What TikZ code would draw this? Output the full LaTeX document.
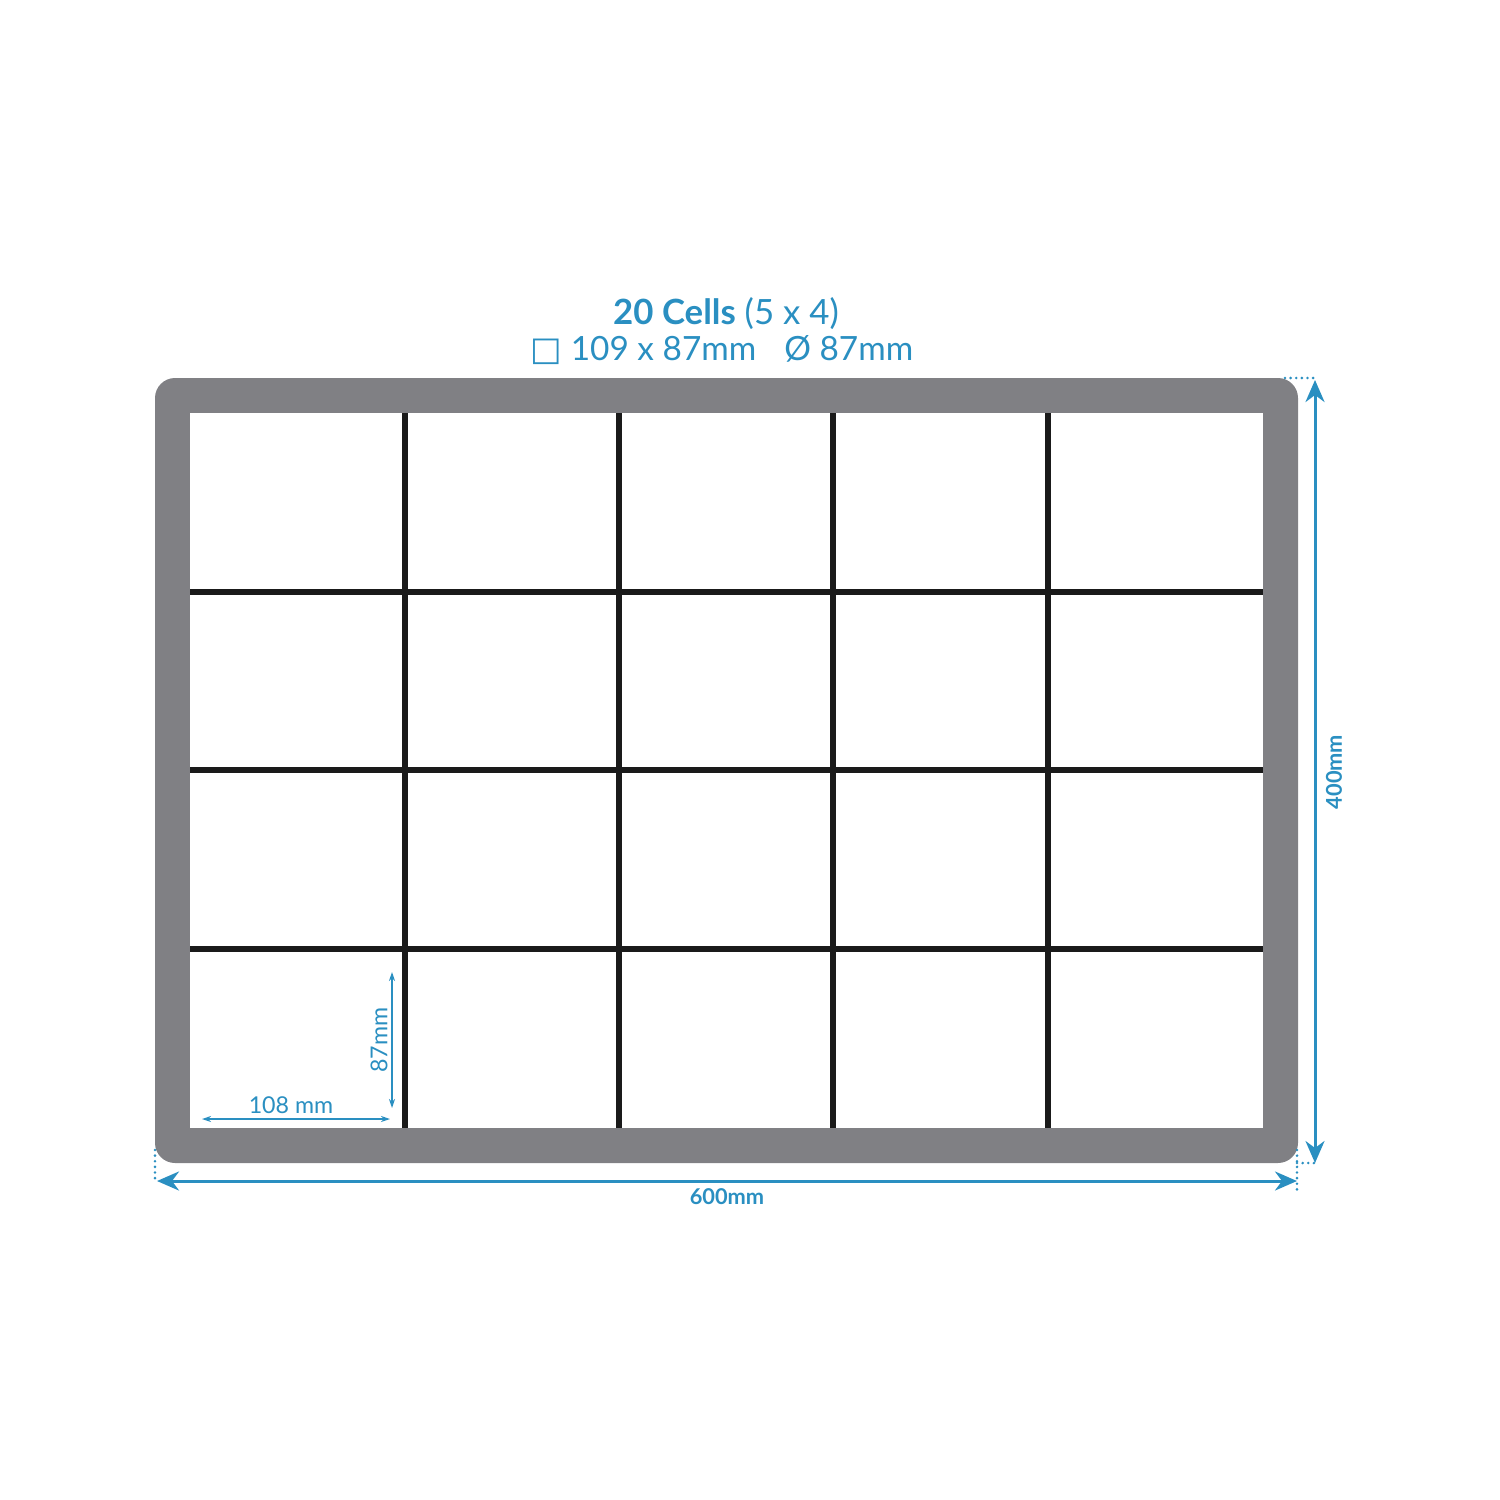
\documentclass[tikz,border=0pt]{standalone}
\usepackage{fontspec}
\setmainfont{Lato}
\newfontfamily\symfont{DejaVu Sans}
\usetikzlibrary{calc, arrows.meta}

\definecolor{dimblue}{HTML}{2A8FC1}
\definecolor{framegray}{HTML}{808084}
\definecolor{gridblack}{HTML}{1A1A1A}

\begin{document}
\begin{tikzpicture}[x=0.1mm, y=-0.1mm,
		bigdim/.style={draw=dimblue, line width=0.85pt, {Stealth[length=2.2mm, width=1.9mm, inset=0.7mm]}-{Stealth[length=2.2mm, width=1.9mm, inset=0.7mm]}},
		smalldim/.style={draw=dimblue, line width=0.4pt, {Stealth[length=0.9mm, width=0.6mm]}-{Stealth[length=0.9mm, width=0.6mm]}},
		extline/.style={draw=dimblue, line width=0.8pt, line cap=round, dash pattern=on 0pt off 1.6pt},
		gridline/.style={draw=gridblack, line width=1.6pt}]
		\useasboundingbox (0,0) rectangle (1500,1500);
		
		% Frame corners
		\coordinate (OutNW) at (155,378);
		\coordinate (OutSE) at (1298,1163);
		\coordinate (InNW)  at (190,413);
		\coordinate (InSE)  at (1263,1128);
		
		\fill[framegray, rounded corners=2mm] (OutNW) rectangle (OutSE);
		\fill[white] (InNW) rectangle (InSE);
		
		% Dividers (5 x 4)
		\foreach \x in {405,619,833,1048}{
			\draw[gridline] (\x,413) -- (\x,1128);
		}
		\foreach \y in {592,770,949}{
			\draw[gridline] (190,\y) -- (1263,\y);
		}
		
		% Title
		\node[text=dimblue, font=\fontsize{9.9}{11}\selectfont] (Title) at (726,314) {\textbf{20 Cells} (5 x 4)};
		\node[text=dimblue, font=\fontsize{9.5}{11}\selectfont] (SubTitle) at (722,350) {{\symfont □} 109 x 87mm\hspace{2.8mm}Ø 87mm};
		
		% Overall width
		\coordinate (WLeft)  at (157,1181);
		\coordinate (WRight) at (1297,1181);
		\draw[bigdim] (WLeft) -- (WRight);
		\node[text=dimblue, font=\fontsize{6.2}{7}\selectfont\bfseries] (WLabel) at (727,1197) {600mm};
		
		% Overall height
		\coordinate (HTop)    at (1315,380);
		\coordinate (HBottom) at (1315,1163);
		\draw[bigdim] (HTop) -- (HBottom);
		\node[text=dimblue, font=\fontsize{6.2}{7}\selectfont\bfseries, rotate=90] (HLabel) at (1334,772) {400mm};
		
		% Extension lines
		\draw[extline] (1285,378) -- (1315,378);
		\draw[extline] (1297,1150) -- (1297,1190);
		\draw[extline] (1297,1163) -- (1315,1163);
		\draw[extline] (155,1150) -- (155,1183);
		
		% Cell size
		\coordinate (CLeft)   at (202,1119);
		\coordinate (CRight)  at (390,1119);
		\coordinate (CTop)    at (392,972);
		\coordinate (CBottom) at (392,1108);
		\draw[smalldim] (CLeft) -- (CRight);
		\draw[smalldim] (CTop) -- (CBottom);
		\node[text=dimblue, font=\fontsize{6.6}{8}\selectfont] (CWLabel) at (291,1105) {108 mm};
		\node[text=dimblue, font=\fontsize{6.6}{8}\selectfont, rotate=90] (CHLabel) at (379,1040) {87mm};
		
	\end{tikzpicture}
\end{document}
